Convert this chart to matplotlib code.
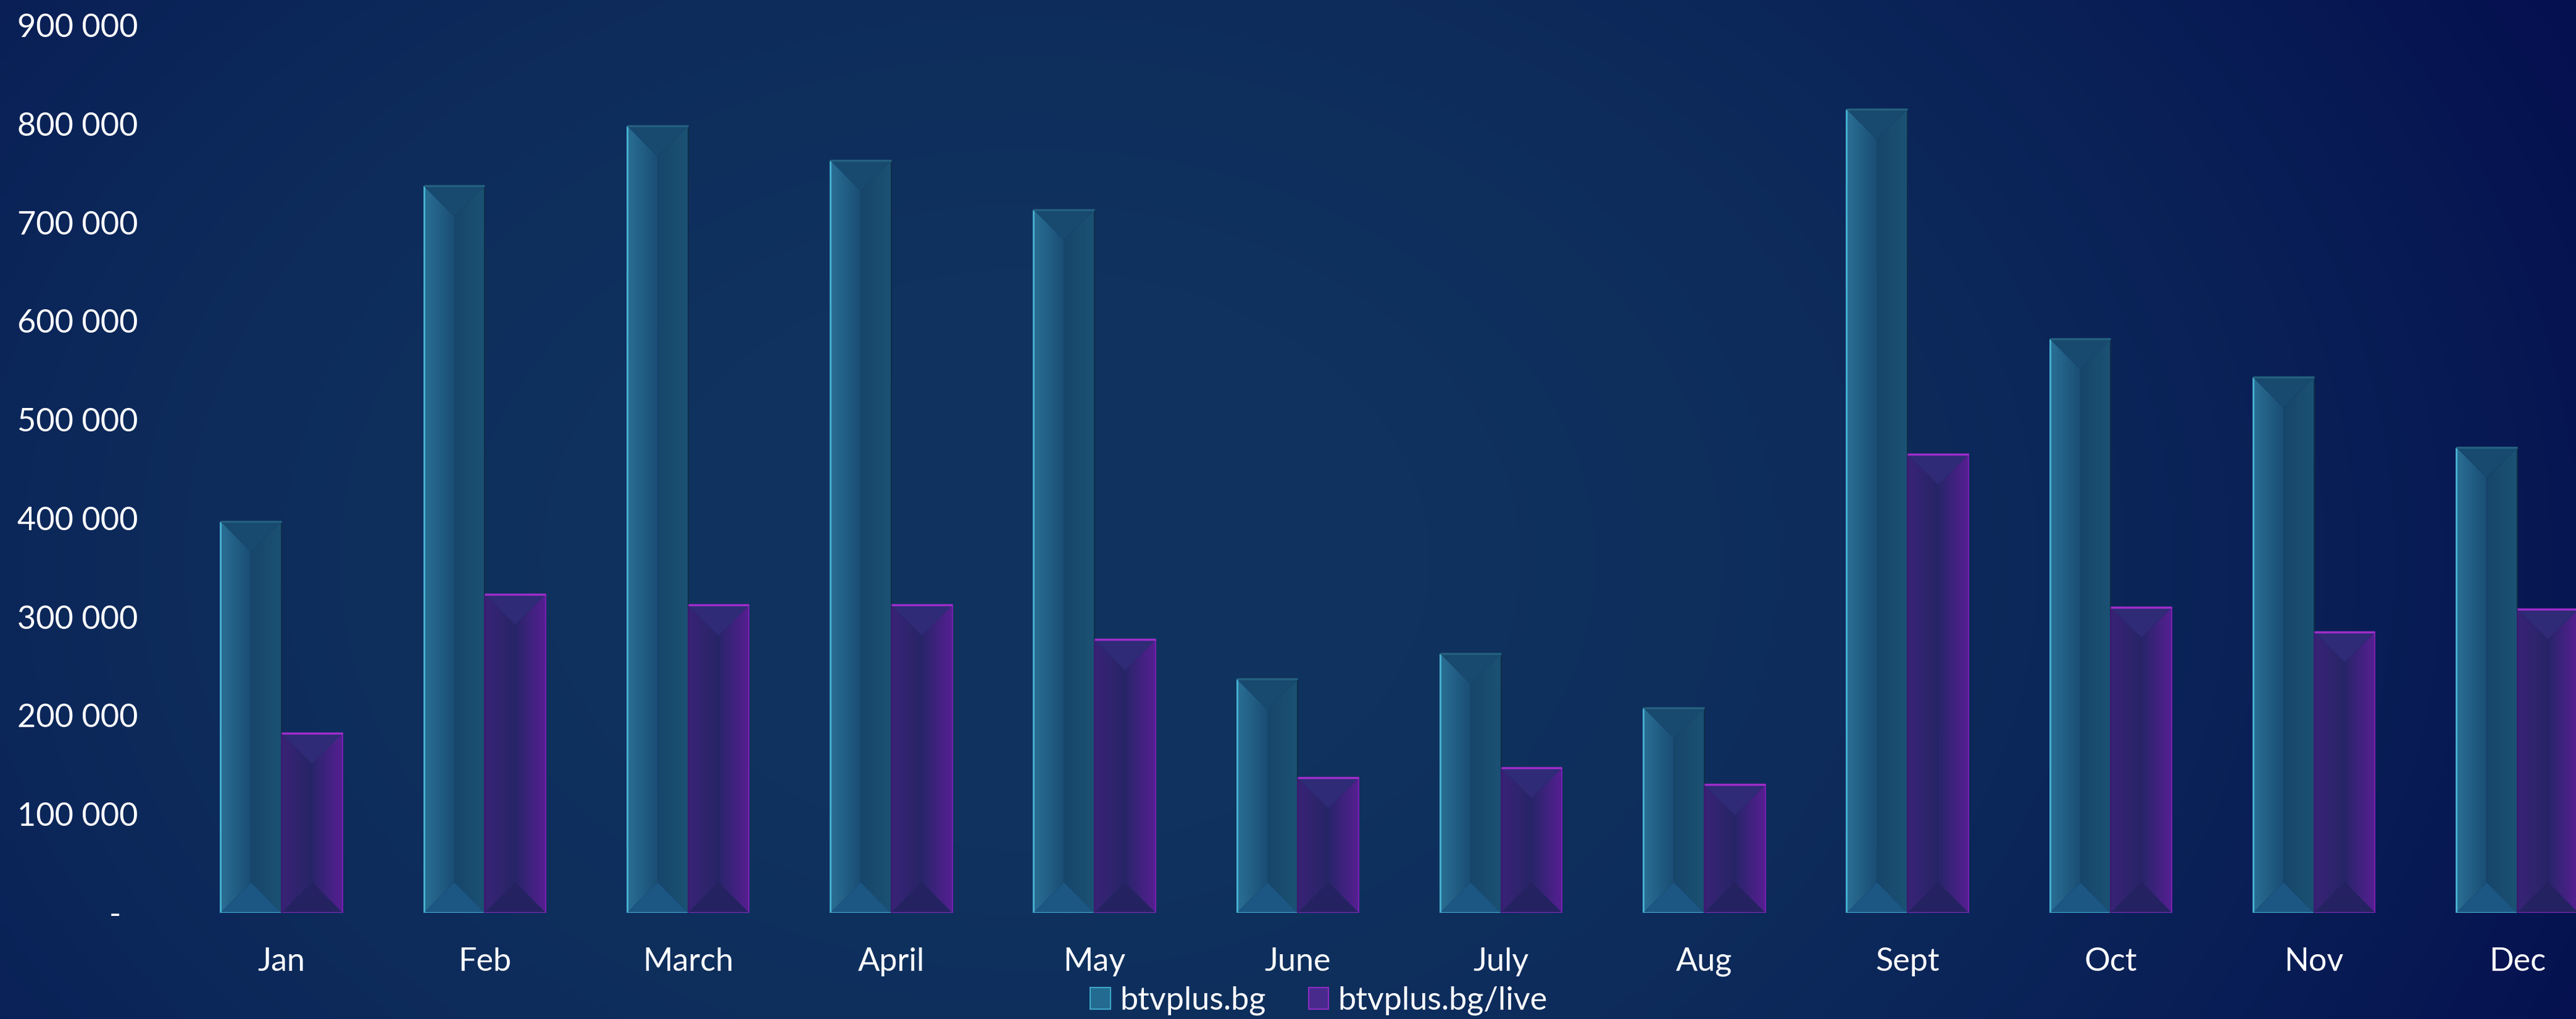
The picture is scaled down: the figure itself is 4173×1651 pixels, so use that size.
import numpy as np
import matplotlib.pyplot as plt
from matplotlib.patches import Polygon, Patch
from matplotlib.colors import to_rgb

plt.rcParams['font.family'] = ['Lato', 'DejaVu Sans']

# Monthly visits
months = ['Jan', 'Feb', 'March', 'April', 'May', 'June', 'July', 'Aug', 'Sept', 'Oct', 'Nov', 'Dec']
site_visits = [397000, 737000, 798000, 763000, 713000, 237000, 263000, 208000, 815000, 582000, 543000, 472000]
live_visits = [182000, 323000, 312000, 312000, 277000, 137000, 147000, 130000, 465000, 310000, 285000, 308000]
series_names = ['btvplus.bg', 'btvplus.bg/live']
y_ticks = list(range(0, 900001, 100000))

# face colours for the bevelled bars
blue_style = dict(left=('#2a6f95', '#1a4d74'), right=('#17466b', '#1b5274'),
                  top='#18496e', bottom='#1c5682',
                  e_left='#45aecf', e_bottom='#3fa4c8', e_top='#24607f', e_right='#0e2d48')
purple_style = dict(left=('#392376', '#272567'), right=('#28256a', '#561f92'),
                    top='#2f2b76', bottom='#252262',
                    e_left='#3a1c70', e_bottom='#7a2cb6', e_top='#a02dca', e_right='#7620ae')

W, H = 4173, 1651
fig = plt.figure(figsize=(W / 100, H / 100), dpi=100)

# background gradient
bg = fig.add_axes([0, 0, 1, 1], zorder=-10)
gx, gy = np.meshgrid(np.linspace(0, 1, 400), np.linspace(0, 1, 160))
t = np.clip(((gx - 0.4) / 0.65) ** 2 + ((gy - 0.45) / 1.2) ** 2, 0, 1)
inner = np.array([16, 52, 95]) / 255
outer = np.array([5, 17, 80]) / 255
bg.imshow(inner * (1 - t[..., None]) + outer * t[..., None], origin='lower',
          extent=[0, 1, 0, 1], aspect='auto', interpolation='bicubic')
bg.axis('off')

ax = fig.add_axes([0.06983, 0.1042, 0.94685, 0.8710])
ax.set_facecolor('none')
ax.set_xlim(-0.5, len(months) - 0.5)
ax.set_ylim(0, 900000)
ax.set_autoscale_on(False)

# ratio to turn a horizontal data length into the same pixel length on y
p0 = ax.transData.transform((0, 0))
p1 = ax.transData.transform((1, 100000))
ky = (p1[0] - p0[0]) / (p1[1] - p0[1]) * 100000


def hgrad(poly_xy, x0, x1, y0, y1, c0, c1, z):
    poly = Polygon(poly_xy, closed=True, facecolor='none', edgecolor='none')
    ax.add_patch(poly)
    g = np.linspace(0, 1, 64)[:, None]
    cols = np.array(to_rgb(c0)) * (1 - g) + np.array(to_rgb(c1)) * g
    im = ax.imshow(cols[None, :, :], extent=[x0, x1, y0, y1], aspect='auto',
                   zorder=z, interpolation='bilinear')
    im.set_clip_path(poly)


def bevel_bar(xc, h, w, st):
    x0, x1 = xc - w / 2, xc + w / 2
    dy = (w / 2) * ky
    left = [(x0, 0), (x0, h), (xc, h - dy), (xc, dy)]
    right = [(x1, 0), (x1, h), (xc, h - dy), (xc, dy)]
    hgrad(left, x0, xc, 0, h, st['left'][0], st['left'][1], 2)
    hgrad(right, xc, x1, 0, h, st['right'][0], st['right'][1], 2)
    ax.add_patch(Polygon([(x0, h), (x1, h), (xc, h - dy)], facecolor=st['top'], edgecolor='none', zorder=3))
    ax.add_patch(Polygon([(x0, 0), (x1, 0), (xc, dy)], facecolor=st['bottom'], edgecolor='none', zorder=3))
    ax.plot([x0, x0], [0, h], color=st['e_left'], lw=2.2, zorder=4, solid_capstyle='butt')
    ax.plot([x1, x1], [0, h], color=st['e_right'], lw=1.5, zorder=4, solid_capstyle='butt')
    ax.plot([x0, x1], [h, h], color=st['e_top'], lw=2.5, zorder=4, solid_capstyle='butt')
    ax.plot([x0, x1], [0, 0], color=st['e_bottom'], lw=2.5, zorder=4, solid_capstyle='butt')


bar_w = 0.3
for i in range(len(months)):
    bevel_bar(i - bar_w / 2, site_visits[i], bar_w, blue_style)
    bevel_bar(i + bar_w / 2, live_visits[i], bar_w, purple_style)

ax.set_xticks(range(len(months)))
ax.set_xticklabels(months)
ax.set_yticks(y_ticks)
ax.set_yticklabels(['-  ' if v == 0 else f'{v:,}'.replace(',', ' ') for v in y_ticks])
ax.tick_params(axis='y', length=0, pad=49, colors='white', labelsize=37.5)
ax.tick_params(axis='x', length=0, pad=40, colors='white', labelsize=37.5)
for s in ax.spines.values():
    s.set_visible(False)

handles = [Patch(facecolor='#236b90', edgecolor='#3ea7c9', lw=1.5),
           Patch(facecolor='#472a8c', edgecolor='#8e2cc2', lw=1.5)]
fig.legend(handles, series_names, loc='center', bbox_to_anchor=(0.512, 0.018), ncol=2,
           frameon=False, fontsize=37.5, handlelength=0.62, handleheight=0.65,
           handletextpad=0.3, columnspacing=1.33, labelcolor='white')

fig.savefig('out.png', dpi=100)
